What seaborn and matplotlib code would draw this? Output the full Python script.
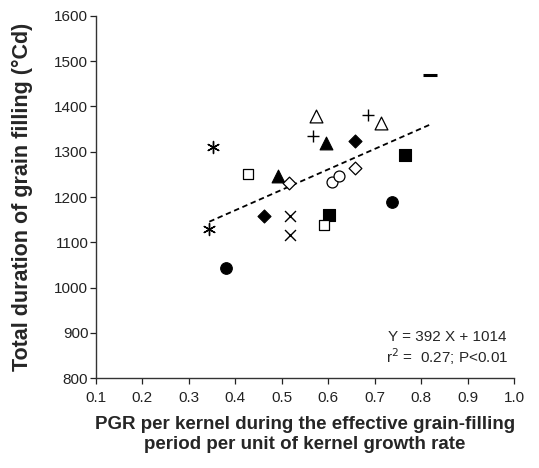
import numpy as np
import pandas as pd
import matplotlib
matplotlib.use("Agg")
import matplotlib.pyplot as plt
import seaborn as sns

sns.set_theme(style="ticks")
plt.rcParams['font.family'] = ['Liberation Sans', 'DejaVu Sans']

# ---- data ----
filled_circle_x = [0.380, 0.738]; filled_circle_y = [1043, 1189]
open_circle_x = [0.608, 0.622];   open_circle_y = [1233, 1246]
filled_square_x = [0.602, 0.764]; filled_square_y = [1160, 1293]
open_square_x = [0.428, 0.591];   open_square_y = [1251, 1138]
filled_tri_x = [0.492, 0.594];    filled_tri_y = [1246, 1319]
open_tri_x = [0.574, 0.714];      open_tri_y = [1379, 1364]
filled_diam_x = [0.462, 0.658];   filled_diam_y = [1158, 1324]
open_diam_x = [0.516, 0.658];     open_diam_y = [1231, 1264]
cross_x = [0.518, 0.518];         cross_y = [1158, 1116]
plus_x = [0.568, 0.686];          plus_y = [1335, 1381]
star_x = [0.352, 0.344];          star_y = [1311, 1129]
minus_x = [0.819];                minus_y = [1470]

x_ticks = [0.1, 0.2, 0.3, 0.4, 0.5, 0.6, 0.7, 0.8, 0.9, 1.0]
y_ticks = [800, 900, 1000, 1100, 1200, 1300, 1400, 1500, 1600]

groups = [
    # x, y, marker, face, size, lw
    (filled_circle_x, filled_circle_y, 'o', 'black', 70, 0.8),
    (open_circle_x, open_circle_y, 'o', 'white', 62, 0.9),
    (filled_square_x, filled_square_y, 's', 'black', 64, 0.8),
    (open_square_x, open_square_y, 's', 'white', 60, 0.9),
    (filled_tri_x, filled_tri_y, '^', 'black', 85, 0.8),
    (open_tri_x, open_tri_y, '^', 'white', 85, 0.9),
    (filled_diam_x, filled_diam_y, 'D', 'black', 44, 0.8),
    (open_diam_x, open_diam_y, 'D', 'white', 42, 0.9),
    (cross_x, cross_y, 'x', 'black', 62, 1.0),
    (plus_x, plus_y, '+', 'black', 75, 1.0),
    (star_x, star_y, (6, 2, 0), 'black', 75, 1.0),
    (minus_x, minus_y, '_', 'black', 95, 2.2),
]

fig = plt.figure(figsize=(5.39, 4.68), dpi=100)
ax = fig.add_axes([0.178, 0.192, 0.776, 0.774])

all_x, all_y = [], []
for gx, gy, mk, face, size, lw in groups:
    df = pd.DataFrame({'x': gx, 'y': gy})
    filled = mk in ('o', 's', '^', 'D')
    if filled:
        sns.scatterplot(data=df, x='x', y='y', marker=mk, s=size,
                        facecolor=face, edgecolor='black', linewidth=lw,
                        ax=ax, zorder=3, legend=False)
    else:
        sns.scatterplot(data=df, x='x', y='y', marker=mk, s=size,
                        color='black', linewidth=lw, ax=ax, zorder=3,
                        legend=False)
    all_x += gx; all_y += gy

fit_df = pd.DataFrame({'x': all_x, 'y': all_y})
sns.regplot(data=fit_df, x='x', y='y', scatter=False, ci=None, ax=ax,
            line_kws=dict(color='black', linestyle=(0, (3, 2)), linewidth=1.3))

ax.set_xlim(0.1, 1.0)
ax.set_ylim(800, 1600)
ax.set_xticks(x_ticks)
ax.set_xticklabels([f"{v:.1f}" for v in x_ticks])
ax.set_yticks(y_ticks)
ax.tick_params(axis='both', direction='out', length=4, width=0.9,
               labelsize=11, colors='#222222')
ax.tick_params(axis='x', pad=5)
ax.tick_params(axis='y', pad=1.5)
for s in ['top', 'right']:
    ax.spines[s].set_visible(False)
for s in ['left', 'bottom']:
    ax.spines[s].set_color('#333333')
    ax.spines[s].set_linewidth(1.0)

ax.set_xlabel("PGR per kernel during the effective grain-filling\nperiod per unit of kernel growth rate",
              fontsize=13.5, fontweight='bold', labelpad=8, linespacing=1.28)
ax.set_ylabel("Total duration of grain filling (°Cd)", fontsize=15.5,
              fontweight='bold', labelpad=15)

ax.text(0.84, 0.113, "Y = 392 X + 1014", transform=ax.transAxes,
        ha='center', va='center', fontsize=11)
ax.text(0.84, 0.058, "r$^2$ =  0.27; P<0.01", transform=ax.transAxes,
        ha='center', va='center', fontsize=11)

fig.savefig("out.png", dpi=100)
